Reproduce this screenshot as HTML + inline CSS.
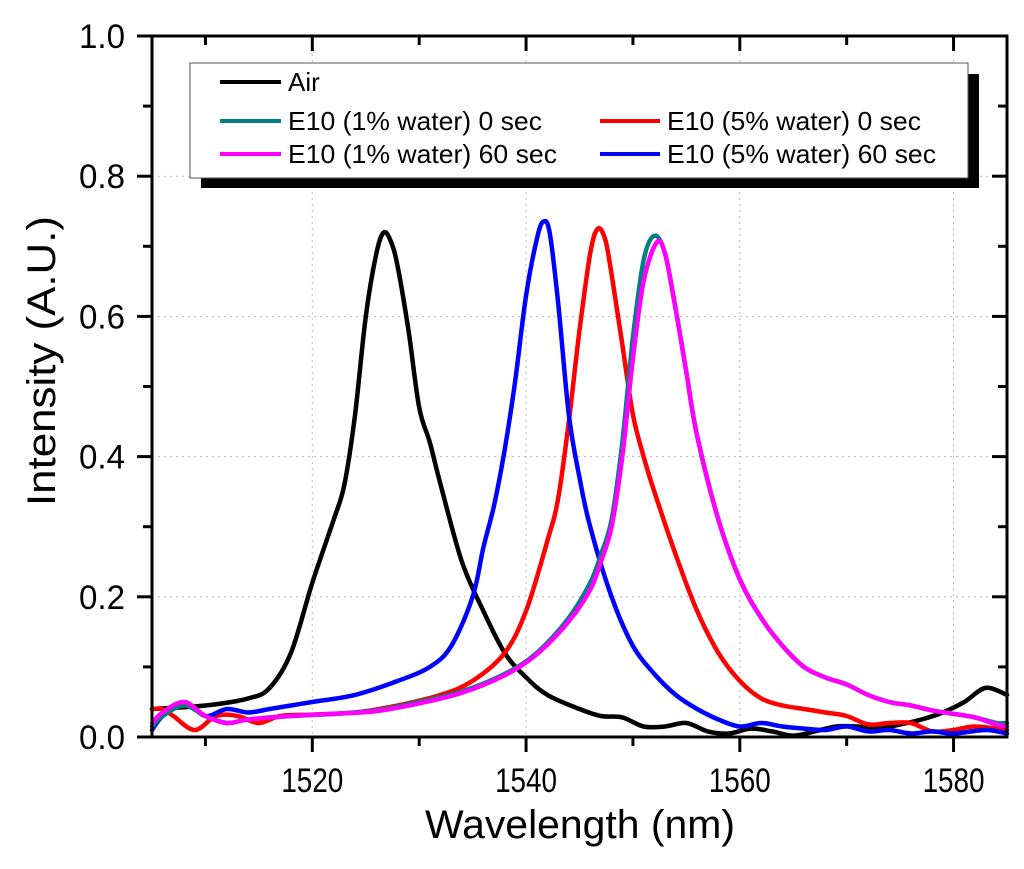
<!DOCTYPE html>
<html><head><meta charset="utf-8"><style>
body{margin:0;background:#fff;}
svg text{font-family:"Liberation Sans",Arial,sans-serif;}
</style></head><body>
<svg id="chart" width="1024" height="864" xmlns="http://www.w3.org/2000/svg">
<g id="grid"></g>
<g id="series"></g>
<g id="axes"></g>
<text transform="translate(55,361) rotate(-90)" text-anchor="middle" font-size="40" textLength="290" lengthAdjust="spacingAndGlyphs">Intensity (A.U.)</text>
<text x="580" y="838" text-anchor="middle" font-size="40" textLength="310" lengthAdjust="spacingAndGlyphs">Wavelength (nm)</text>
<g>
<rect x="201" y="74" width="778" height="114" fill="#000"/>
<rect x="190" y="63" width="778" height="115" fill="#fff" stroke="#555" stroke-width="1"/>
<g><line x1="220" y1="82" x2="281" y2="82" stroke="#000" stroke-width="4"/><text x="288" y="91" font-size="26">Air</text></g>
<g><line x1="220" y1="121" x2="281" y2="121" stroke="#008080" stroke-width="4"/><text x="288" y="130" font-size="26" textLength="254" lengthAdjust="spacingAndGlyphs">E10 (1% water) 0 sec</text></g>
<g><line x1="220" y1="154" x2="281" y2="154" stroke="#ff00ff" stroke-width="4"/><text x="288" y="163" font-size="26" textLength="269" lengthAdjust="spacingAndGlyphs">E10 (1% water) 60 sec</text></g>
<g><line x1="600" y1="121" x2="660" y2="121" stroke="#ff0000" stroke-width="4"/><text x="667" y="130" font-size="26" textLength="254" lengthAdjust="spacingAndGlyphs">E10 (5% water) 0 sec</text></g>
<g><line x1="600" y1="154" x2="660" y2="154" stroke="#0000ff" stroke-width="4"/><text x="667" y="163" font-size="26" textLength="269" lengthAdjust="spacingAndGlyphs">E10 (5% water) 60 sec</text></g>
</g>
</svg>
<script>
const xTicks=[1520,1540,1560,1580];
const yTicks=[0.0,0.2,0.4,0.6,0.8,1.0];
const airX=[1505,1510,1514,1516,1518,1520,1522,1523,1524,1525,1526,1526.7,1527.4,1528,1529,1530,1531,1532,1534,1536,1538,1540,1542,1545,1547,1549,1551,1553,1555,1557,1559,1561,1563,1565,1567,1569,1571,1573,1575,1577,1579,1581,1583,1585];
const airY=[0.04,0.045,0.055,0.07,0.12,0.22,0.31,0.36,0.46,0.6,0.69,0.72,0.705,0.67,0.58,0.47,0.42,0.36,0.25,0.18,0.12,0.085,0.06,0.04,0.03,0.028,0.015,0.015,0.02,0.008,0.005,0.012,0.008,0.002,0.008,0.015,0.015,0.012,0.018,0.025,0.035,0.05,0.07,0.06];
const teal0X=[1505,1506,1508,1510,1512,1514,1518,1522,1526,1530,1534,1538,1541,1544,1546,1547,1548,1549,1550,1551,1552,1553,1554,1555,1556,1558,1560,1562,1564,1566,1568,1570,1572,1574,1576,1578,1580,1582,1584,1585];
const teal0Y=[0.015,0.03,0.045,0.03,0.02,0.025,0.03,0.033,0.038,0.05,0.065,0.09,0.12,0.17,0.22,0.26,0.31,0.42,0.57,0.68,0.715,0.69,0.61,0.52,0.43,0.31,0.225,0.17,0.13,0.1,0.085,0.075,0.06,0.05,0.045,0.038,0.033,0.028,0.02,0.02];
const mag60X=[1505,1506,1508,1510,1512,1514,1518,1522,1526,1530,1534,1538,1541,1544,1546,1547,1548,1549,1550,1551,1552.2,1553,1554,1555,1556,1558,1560,1562,1564,1566,1568,1570,1572,1574,1576,1578,1580,1582,1584,1585];
const mag60Y=[0.02,0.035,0.05,0.03,0.02,0.025,0.03,0.033,0.037,0.048,0.063,0.088,0.118,0.165,0.21,0.25,0.3,0.4,0.54,0.65,0.705,0.69,0.61,0.52,0.43,0.31,0.225,0.17,0.13,0.1,0.085,0.075,0.06,0.05,0.045,0.038,0.033,0.028,0.018,0.015];
const red0X=[1505,1506,1507,1509,1511,1513,1515,1517,1520,1524,1528,1532,1535,1538,1540,1542,1543,1544,1545,1546,1546.7,1547.4,1548,1549,1550,1551,1552,1554,1556,1558,1560,1562,1564,1566,1568,1570,1572,1574,1576,1578,1580,1582,1585];
const red0Y=[0.04,0.04,0.03,0.01,0.03,0.03,0.02,0.03,0.032,0.035,0.045,0.06,0.08,0.12,0.18,0.28,0.34,0.45,0.58,0.69,0.725,0.71,0.66,0.56,0.46,0.4,0.35,0.26,0.18,0.12,0.08,0.055,0.045,0.04,0.035,0.03,0.018,0.02,0.02,0.008,0.01,0.015,0.01];
const blue60X=[1505,1506,1508,1510,1512,1514,1516,1518,1520,1524,1528,1531,1533,1535,1536,1537,1538,1539,1540,1541,1541.6,1542.2,1543,1544,1545,1546,1548,1550,1552,1554,1556,1558,1560,1562,1564,1566,1568,1570,1572,1574,1576,1578,1580,1583,1585];
const blue60Y=[0.01,0.03,0.05,0.03,0.04,0.035,0.04,0.045,0.05,0.06,0.08,0.1,0.13,0.2,0.27,0.33,0.41,0.51,0.63,0.71,0.735,0.72,0.62,0.46,0.37,0.3,0.2,0.13,0.09,0.06,0.04,0.025,0.015,0.02,0.015,0.012,0.01,0.015,0.008,0.01,0.005,0.008,0.005,0.01,0.005];

const L=152,R=1007,T=36,B=737,X0=1505,X1=1585;
const sx=v=>L+(v-X0)/(X1-X0)*(R-L);
const sy=v=>B-v*(B-T);
const NS="http://www.w3.org/2000/svg";
function mk(tag,attrs,parent){const e=document.createElementNS(NS,tag);for(const k in attrs)e.setAttribute(k,attrs[k]);parent.appendChild(e);return e;}
const grid=document.getElementById('grid'),axes=document.getElementById('axes'),series=document.getElementById('series');
xTicks.forEach(t=>{const g=mk('line',{x1:sx(t),x2:sx(t),y1:T,y2:B,stroke:'#bbb','stroke-dasharray':'2,4','stroke-width':1},grid);

});
yTicks.forEach(t=>{if(t>0&&t<1){const g=mk('line',{x1:L,x2:R,y1:sy(t),y2:sy(t),stroke:'#bbb','stroke-dasharray':'2,4','stroke-width':1},grid);

}});
function smoothPath(P){
  let d='M'+P[0][0].toFixed(1)+','+P[0][1].toFixed(1);
  for(let i=0;i<P.length-1;i++){
    const p0=P[Math.max(0,i-1)],p1=P[i],p2=P[i+1],p3=P[Math.min(P.length-1,i+2)];
    const c1=[p1[0]+(p2[0]-p0[0])/6,p1[1]+(p2[1]-p0[1])/6];
    const c2=[p2[0]-(p3[0]-p1[0])/6,p2[1]-(p3[1]-p1[1])/6];
    d+='C'+c1[0].toFixed(1)+','+c1[1].toFixed(1)+' '+c2[0].toFixed(1)+','+c2[1].toFixed(1)+' '+p2[0].toFixed(1)+','+p2[1].toFixed(1);
  }
  return d;
}
function drawSeries(xs,ys,color,name){
  const P=xs.map((x,i)=>[sx(x),sy(ys[i])]);
  const p=mk('path',{d:smoothPath(P),fill:'none',stroke:color,'stroke-width':4.5,'stroke-linejoin':'round','stroke-linecap':'round'},series);
  
  
}
drawSeries(airX,airY,'#000','series-air');
drawSeries(red0X,red0Y,'#ff0000','series-5pct-0s');
drawSeries(blue60X,blue60Y,'#0000ff','series-5pct-60s');
drawSeries(teal0X,teal0Y,'#008080','series-1pct-0s');
drawSeries(mag60X,mag60Y,'#ff00ff','series-1pct-60s');
mk('rect',{x:L,y:T,width:R-L,height:B-T,fill:'none',stroke:'#000','stroke-width':3},axes);
for(let v=1510;v<=1580;v+=10){const major=v%20===0;const x=sx(v);
  mk('line',{x1:x,x2:x,y1:B,y2:B+(major?15:9),stroke:'#000','stroke-width':3},axes);
  mk('line',{x1:x,x2:x,y1:T,y2:T+(major?15:9),stroke:'#000','stroke-width':3},axes);}
for(let i=0;i<=10;i++){const v=i/10;const major=i%2===0;const y=sy(v);
  mk('line',{x1:L-(major?15:9),x2:L,y1:y,y2:y,stroke:'#000','stroke-width':3},axes);
  mk('line',{x1:R-(major?15:9),x2:R,y1:y,y2:y,stroke:'#000','stroke-width':3},axes);}
xTicks.forEach(t=>{const e=mk('text',{x:sx(t),y:B+55,'text-anchor':'middle','font-size':34,textLength:62,lengthAdjust:'spacingAndGlyphs'},axes);e.textContent=t;

});
yTicks.forEach(t=>{const e=mk('text',{x:L-27,y:sy(t)+12,'text-anchor':'end','font-size':34,textLength:46,lengthAdjust:'spacingAndGlyphs'},axes);e.textContent=t.toFixed(1);

});
</script>
</body></html>
